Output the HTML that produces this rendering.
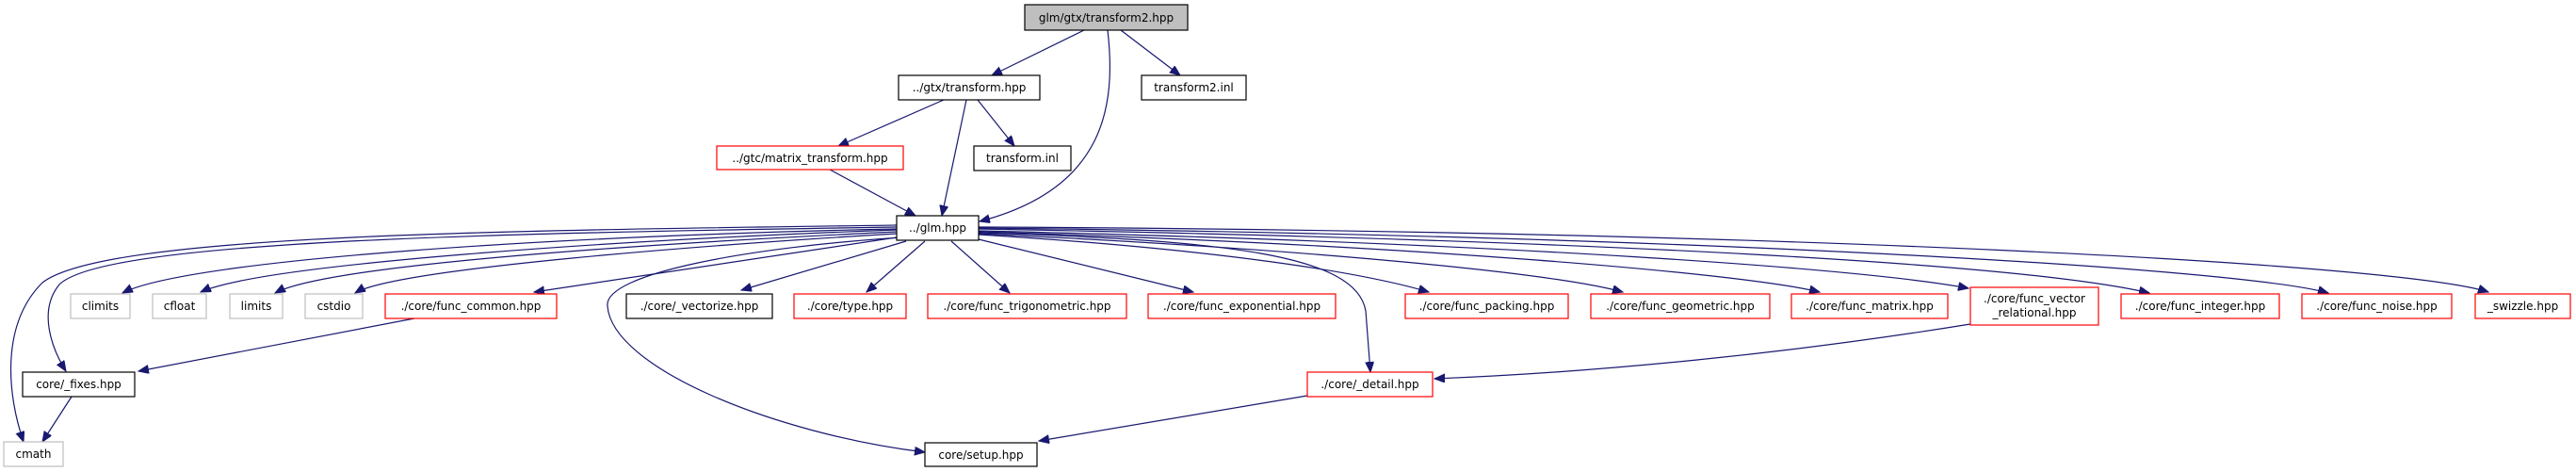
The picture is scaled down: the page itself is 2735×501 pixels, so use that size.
<!DOCTYPE html>
<html><head><meta charset="utf-8"><style>
html,body{margin:0;padding:0;background:#fff;}
svg{display:block;}
text{font-family:"DejaVu Sans","Liberation Sans",sans-serif;font-size:12px;fill:#000;text-anchor:middle;}
.e{fill:none;stroke:#191970;stroke-width:1.2;}
.g{fill:#fff;stroke:#bfbfbf;stroke-width:1.2;}
.b{fill:#fff;stroke:#000;stroke-width:1.2;}
.r{fill:#fff;stroke:#ff0000;stroke-width:1.2;}
</style></head><body>
<svg width="2735" height="501" viewBox="0 0 2735 501" xmlns="http://www.w3.org/2000/svg">
<defs>
<marker id="a" markerUnits="userSpaceOnUse" markerWidth="12" markerHeight="10" refX="11" refY="4.5" orient="auto">
<path d="M0,0 L11,4.5 L0,9 Z" fill="#191970" stroke="#191970"/>
</marker>
</defs>
<g marker-end="url(#a)">
<!-- top edges -->
<path class="e" d="M1151,32 L1053,80"/>
<path class="e" d="M1190,32 L1253,80"/>
<path class="e" d="M1176,32 C1185,110 1175,200 1040,235"/>
<path class="e" d="M1002,106 L890,155"/>
<path class="e" d="M1026,106 L1000,229"/>
<path class="e" d="M1038,106 L1077,155"/>
<path class="e" d="M881,180 L972,229"/>
<!-- left edges from glm -->
<path class="e" d="M952,239 C500,245 110,250 45,300 C0,345 8,420 25,469"/>
<path class="e" d="M952,241 C500,248 110,256 63,302 C40,330 55,370 70,394"/>
<path class="e" d="M952,243 C600,250 200,275 130,311"/>
<path class="e" d="M952,244 C650,255 280,280 213,310"/>
<path class="e" d="M952,246 C700,258 350,280 292,311"/>
<path class="e" d="M952,248 C750,260 420,285 377,311"/>
<path class="e" d="M952,252 L567,310"/>
<path class="e" d="M958,252 C800,262 640,290 645,325 C650,390 820,460 982,480"/>
<path class="e" d="M962,256 L787,308"/>
<path class="e" d="M982,256 L920,310"/>
<path class="e" d="M1010,256 L1072,311"/>
<path class="e" d="M1039,254 L1267,310"/>
<!-- right edges -->
<path class="e" d="M1039,247 C1300,255 1440,270 1450,330 L1455,395"/>
<path class="e" d="M1039,249 C1300,265 1450,290 1517,310"/>
<path class="e" d="M1039,248 C1400,265 1650,290 1723,310"/>
<path class="e" d="M1039,246 C1500,260 1850,290 1932,310"/>
<path class="e" d="M1039,245 C1600,258 1980,285 2090,306"/>
<path class="e" d="M1039,243 C1700,255 2150,280 2282,311"/>
<path class="e" d="M1039,242 C1800,250 2380,285 2472,311"/>
<path class="e" d="M1039,241 C1900,245 2550,280 2642,310"/>
<!-- lower edges -->
<path class="e" d="M440,338 L147,394"/>
<path class="e" d="M76,421 L45,469"/>
<path class="e" d="M2092,344 C1900,375 1700,395 1523,402"/>
<path class="e" d="M1388,420 L1103,468"/>
</g>
<!-- nodes -->
<rect x="1088" y="5" width="173" height="27" fill="#bfbfbf" stroke="#000" stroke-width="1.2"/>
<text x="1174.5" y="23">glm/gtx/transform2.hpp</text>
<rect class="b" x="954" y="80" width="150" height="26"/><text x="1029" y="97">../gtx/transform.hpp</text>
<rect class="b" x="1212" y="80" width="111" height="26"/><text x="1267.5" y="97">transform2.inl</text>
<rect class="r" x="761" y="155" width="198" height="25"/><text x="860" y="172">../gtc/matrix_transform.hpp</text>
<rect class="b" x="1034" y="155" width="103" height="26"/><text x="1085.5" y="172">transform.inl</text>
<rect class="b" x="952" y="229" width="87" height="26"/><text x="995.5" y="246">../glm.hpp</text>

<rect class="g" x="75" y="312" width="63" height="26"/><text x="106.5" y="329">climits</text>
<rect class="g" x="162" y="312" width="57" height="26"/><text x="190.5" y="329">cfloat</text>
<rect class="g" x="244" y="312" width="56" height="26"/><text x="272" y="329">limits</text>
<rect class="g" x="324" y="312" width="61" height="26"/><text x="354.5" y="329">cstdio</text>
<rect class="r" x="409" y="312" width="182" height="26"/><text x="500" y="329">./core/func_common.hpp</text>
<rect class="b" x="665" y="312" width="155" height="26"/><text x="742.5" y="329">./core/_vectorize.hpp</text>
<rect class="r" x="843" y="312" width="119" height="26"/><text x="902.5" y="329">./core/type.hpp</text>
<rect class="r" x="985" y="312" width="211" height="26"/><text x="1090.5" y="329">./core/func_trigonometric.hpp</text>
<rect class="r" x="1219" y="312" width="199" height="26"/><text x="1318.5" y="329">./core/func_exponential.hpp</text>
<rect class="r" x="1492" y="312" width="173" height="26"/><text x="1578.5" y="329">./core/func_packing.hpp</text>
<rect class="r" x="1689" y="312" width="190" height="26"/><text x="1784" y="329">./core/func_geometric.hpp</text>
<rect class="r" x="1902" y="312" width="166" height="26"/><text x="1985" y="329">./core/func_matrix.hpp</text>
<rect class="r" x="2092" y="305" width="136" height="40"/><text x="2160" y="321">./core/func_vector</text><text x="2160" y="336">_relational.hpp</text>
<rect class="r" x="2252" y="312" width="168" height="26"/><text x="2336" y="329">./core/func_integer.hpp</text>
<rect class="r" x="2444" y="312" width="159" height="26"/><text x="2523.5" y="329">./core/func_noise.hpp</text>
<rect class="r" x="2628" y="312" width="101" height="26"/><text x="2678.5" y="329">_swizzle.hpp</text>

<rect class="b" x="24" y="395" width="119" height="26"/><text x="83.5" y="412">core/_fixes.hpp</text>
<rect class="r" x="1388" y="395" width="133" height="26"/><text x="1454.5" y="412">./core/_detail.hpp</text>
<rect class="g" x="4" y="469" width="63" height="26"/><text x="35.5" y="486">cmath</text>
<rect class="b" x="982" y="470" width="119" height="25"/><text x="1041.5" y="487">core/setup.hpp</text>
</svg>
</body></html>
